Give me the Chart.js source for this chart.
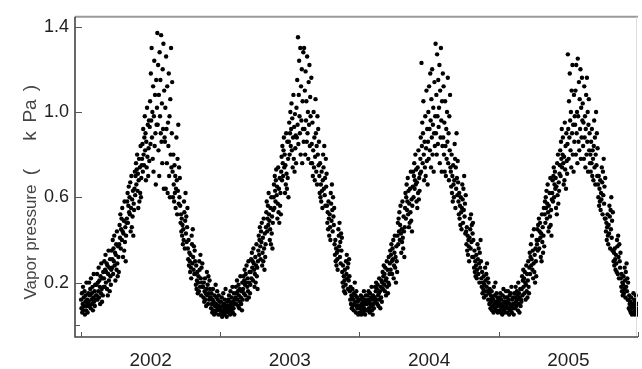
<!DOCTYPE html>
<html>
<head>
<meta charset="utf-8">
<script src="https://cdn.jsdelivr.net/npm/chart.js@4.4.0/dist/chart.umd.min.js"></script>
<style>
  html, body { margin: 0; padding: 0; background: #fff; }
</style>
</head>
<body>
<canvas id="myChart" width="642" height="369"></canvas>
<script>
// years shown on the x axis and the day each one starts (day 0 = 1 Jan 2002)
const years = [2002, 2003, 2004, 2005];
const yearStartDay = [0, 365, 730, 1096];
const lastDay = 1461;
const yTicks = [0, 0.2, 0.6, 1.0, 1.4];

// daily vapor pressure (kPa)
const vp2002 = [
  0.12,0.08,0.15,0.06,0.10,0.18,0.07,0.13,0.09,0.16,0.05,0.11,0.14,0.07,0.20,0.09,0.12,0.06,0.10,0.15,
  0.11,0.20,0.09,0.14,0.17,0.08,0.22,0.12,0.15,0.10,0.18,0.07,0.13,0.24,0.11,0.16,0.09,0.19,0.12,0.14,
  0.19,0.14,0.24,0.12,0.20,0.16,0.27,0.13,0.21,0.18,0.10,0.23,0.15,0.29,0.17,0.11,0.22,0.14,0.25,0.18,
  0.22,0.30,0.18,0.26,0.33,0.20,0.25,0.29,0.17,0.28,0.14,0.24,0.35,0.21,0.27,0.16,0.31,0.23,0.19,0.26,
  0.35,0.27,0.31,0.40,0.24,0.36,0.30,0.42,0.28,0.34,0.21,0.33,0.38,0.26,0.44,0.29,0.23,0.37,0.32,0.25,
  0.38,0.47,0.41,0.52,0.36,0.45,0.50,0.40,0.55,0.44,0.32,0.43,0.49,0.35,0.58,0.39,0.46,0.30,0.42,0.48,
  0.50,0.58,0.62,0.48,0.56,0.65,0.53,0.60,0.52,0.67,0.44,0.55,0.70,0.46,0.59,0.51,0.63,0.42,0.57,0.54,
  0.64,0.72,0.61,0.70,0.76,0.66,0.73,0.80,0.63,0.71,0.55,0.68,0.78,0.58,0.74,0.62,0.84,0.60,0.69,0.75,
  0.78,0.85,0.72,0.92,0.80,0.75,0.88,0.98,0.82,0.90,0.68,0.86,0.74,1.02,0.79,0.94,0.70,0.83,0.96,0.77,
  0.93,1.05,0.85,1.18,0.96,1.30,0.88,1.00,0.78,1.12,0.72,0.98,1.24,0.84,1.08,0.90,0.66,1.15,0.94,1.02,
  1.37,0.94,1.22,0.82,1.08,0.70,1.28,0.98,1.15,0.90,1.36,0.86,1.04,0.76,1.20,0.92,1.32,0.64,1.10,0.88,
  0.86,1.02,0.64,1.26,0.92,0.76,1.12,0.62,0.95,0.84,1.18,0.70,0.98,0.60,1.06,0.80,1.30,0.74,0.90,1.14,
  0.72,0.60,0.80,0.66,0.58,0.75,0.62,0.70,0.55,0.64,0.88,0.68,0.52,0.78,0.63,0.94,0.57,0.74,0.60,0.69,
  0.56,0.48,0.52,0.44,0.50,0.42,0.47,0.38,0.45,0.40,0.58,0.53,0.36,0.49,0.62,0.43,0.51,0.39,0.46,0.55,
  0.36,0.31,0.40,0.28,0.34,0.30,0.25,0.33,0.27,0.22,0.42,0.38,0.29,0.45,0.32,0.26,0.37,0.24,0.35,0.30,
  0.24,0.19,0.28,0.17,0.21,0.25,0.15,0.20,0.23,0.16,0.30,0.26,0.18,0.33,0.22,0.14,0.27,0.20,0.29,0.18,
  0.18,0.13,0.20,0.11,0.16,0.22,0.12,0.15,0.09,0.17,0.25,0.14,0.19,0.10,0.23,0.15,0.12,0.21,0.17,0.13,
  0.13,0.08,0.15,0.10,0.06,0.12,0.17,0.07,0.11,0.05,0.14,0.09,0.06,0.19,0.10,0.13,0.07,0.16,0.08,0.12,0.05,0.14,0.09,0.11,0.07
];
const vp2003 = [
  0.08,0.05,0.11,0.06,0.13,0.04,0.09,0.07,0.15,0.06,0.10,0.05,0.12,0.08,0.17,0.06,0.09,0.04,0.11,0.07,
  0.09,0.12,0.06,0.14,0.08,0.11,0.05,0.16,0.10,0.07,0.13,0.09,0.18,0.06,0.11,0.08,0.15,0.05,0.12,0.10,
  0.13,0.18,0.10,0.15,0.21,0.12,0.16,0.09,0.19,0.14,0.08,0.17,0.11,0.23,0.13,0.10,0.16,0.07,0.20,0.12,
  0.17,0.23,0.15,0.21,0.26,0.19,0.14,0.24,0.20,0.28,0.12,0.18,0.22,0.16,0.30,0.13,0.20,0.25,0.15,0.19,
  0.25,0.31,0.22,0.34,0.27,0.30,0.21,0.36,0.29,0.26,0.18,0.24,0.32,0.20,0.28,0.38,0.23,0.27,0.17,0.30,
  0.35,0.42,0.33,0.40,0.46,0.37,0.31,0.44,0.39,0.48,0.28,0.34,0.41,0.30,0.50,0.36,0.26,0.43,0.32,0.38,
  0.46,0.53,0.58,0.44,0.50,0.56,0.47,0.62,0.52,0.49,0.40,0.45,0.55,0.38,0.60,0.43,0.51,0.36,0.48,0.54,
  0.60,0.66,0.55,0.70,0.63,0.58,0.68,0.73,0.61,0.65,0.50,0.57,0.74,0.53,0.64,0.48,0.69,0.56,0.62,0.52,
  0.72,0.79,0.68,0.84,0.76,0.70,0.82,0.88,0.74,0.80,0.62,0.75,0.66,0.90,0.71,0.64,0.86,0.69,0.78,0.60,
  0.86,0.95,0.80,0.90,1.00,0.84,0.92,1.04,0.82,0.97,0.74,0.88,1.08,0.78,0.93,0.72,0.99,0.83,0.89,0.76,
  1.02,0.88,1.15,0.94,1.35,0.85,1.08,1.24,0.98,0.90,1.30,0.80,1.12,0.96,1.20,0.76,1.05,0.92,1.28,0.86,
  1.30,0.92,1.10,0.80,1.19,0.96,1.05,0.86,1.26,0.90,1.00,0.78,1.14,0.94,1.22,0.84,1.07,0.98,0.76,1.16,
  0.85,0.76,0.95,0.70,0.82,1.00,0.74,0.88,0.68,0.79,1.06,0.90,0.72,0.84,0.66,0.98,0.80,0.92,0.75,0.86,
  0.70,0.62,0.76,0.60,0.66,0.58,0.72,0.63,0.55,0.68,0.80,0.74,0.64,0.84,0.61,0.69,0.56,0.78,0.65,0.71,
  0.56,0.48,0.53,0.45,0.58,0.50,0.42,0.52,0.46,0.40,0.62,0.57,0.49,0.66,0.54,0.44,0.60,0.51,0.47,0.55,
  0.38,0.33,0.40,0.30,0.36,0.28,0.34,0.31,0.26,0.35,0.45,0.42,0.37,0.48,0.32,0.39,0.29,0.43,0.35,0.41,
  0.25,0.20,0.28,0.18,0.23,0.16,0.21,0.26,0.15,0.19,0.30,0.24,0.33,0.22,0.27,0.17,0.29,0.21,0.31,0.23,
  0.16,0.12,0.18,0.10,0.14,0.08,0.13,0.17,0.09,0.12,0.07,0.15,0.10,0.20,0.11,0.14,0.06,0.16,0.09,0.13,0.08,0.11,0.05,0.12,0.09
];
const vp2004 = [
  0.09,0.06,0.12,0.08,0.14,0.05,0.10,0.07,0.13,0.09,0.11,0.06,0.16,0.08,0.12,0.05,0.10,0.14,0.07,0.11,
  0.10,0.14,0.07,0.12,0.16,0.08,0.11,0.06,0.15,0.10,0.13,0.09,0.18,0.07,0.12,0.05,0.14,0.10,0.08,0.13,
  0.13,0.18,0.11,0.16,0.20,0.12,0.17,0.10,0.19,0.14,0.09,0.15,0.22,0.12,0.16,0.08,0.18,0.13,0.21,0.11,
  0.20,0.25,0.17,0.23,0.28,0.19,0.24,0.16,0.27,0.21,0.14,0.22,0.30,0.18,0.26,0.15,0.20,0.32,0.19,0.24,
  0.29,0.35,0.26,0.33,0.38,0.30,0.24,0.36,0.31,0.40,0.22,0.28,0.34,0.42,0.27,0.32,0.20,0.37,0.30,0.25,
  0.42,0.48,0.38,0.50,0.44,0.53,0.40,0.47,0.56,0.43,0.34,0.45,0.39,0.58,0.41,0.36,0.51,0.44,0.32,0.46,
  0.55,0.62,0.50,0.60,0.66,0.54,0.58,0.69,0.52,0.63,0.46,0.57,0.48,0.64,0.53,0.72,0.49,0.59,0.44,0.56,
  0.65,0.72,0.60,0.70,0.76,0.64,0.68,0.80,0.66,0.73,0.58,0.67,0.55,0.74,0.62,0.82,0.59,0.69,0.63,0.71,
  0.78,0.88,0.72,1.23,0.84,0.95,0.76,0.90,1.05,0.80,0.68,0.86,0.74,0.98,0.70,0.83,1.10,0.77,0.92,0.66,
  0.86,1.00,0.78,1.12,0.92,0.82,1.18,0.96,0.74,1.06,0.88,1.20,0.80,0.94,1.02,0.72,0.90,1.14,0.84,0.98,
  1.32,0.90,1.08,0.80,1.27,0.98,0.85,1.15,0.93,1.02,1.22,0.76,1.10,0.88,1.30,0.96,0.72,1.05,0.84,1.18,
  0.88,1.12,0.80,0.95,0.72,1.05,0.84,0.70,0.92,0.78,1.00,0.86,1.16,0.76,0.90,0.68,0.98,0.82,1.08,0.74,
  0.72,0.65,0.80,0.62,0.70,0.58,0.75,0.66,0.60,0.68,0.85,0.78,0.55,0.74,0.64,0.90,0.69,0.61,0.77,0.67,
  0.58,0.52,0.62,0.50,0.56,0.47,0.60,0.53,0.45,0.55,0.66,0.59,0.48,0.64,0.54,0.70,0.51,0.57,0.43,0.61,
  0.44,0.38,0.46,0.35,0.42,0.33,0.40,0.37,0.30,0.41,0.50,0.45,0.36,0.52,0.39,0.47,0.32,0.43,0.48,0.40,
  0.32,0.27,0.35,0.25,0.30,0.23,0.28,0.33,0.22,0.26,0.38,0.31,0.24,0.36,0.29,0.20,0.34,0.27,0.40,0.30,
  0.22,0.18,0.25,0.15,0.20,0.17,0.23,0.13,0.19,0.16,0.27,0.21,0.14,0.24,0.18,0.29,0.16,0.22,0.12,0.20,
  0.15,0.10,0.17,0.12,0.08,0.14,0.11,0.16,0.07,0.13,0.09,0.12,0.06,0.18,0.10,0.14,0.08,0.20,0.11,0.07,0.15,0.09,0.13,0.06,0.10,0.12
];
const vp2005 = [
  0.11,0.07,0.13,0.09,0.15,0.06,0.12,0.08,0.10,0.05,0.14,0.09,0.17,0.07,0.11,0.06,0.13,0.08,0.10,0.16,
  0.09,0.13,0.06,0.11,0.16,0.08,0.12,0.05,0.14,0.10,0.07,0.15,0.09,0.18,0.06,0.12,0.08,0.13,0.10,0.05,
  0.10,0.15,0.08,0.13,0.18,0.11,0.09,0.16,0.12,0.14,0.07,0.20,0.10,0.15,0.06,0.13,0.17,0.09,0.12,0.11,
  0.17,0.23,0.14,0.21,0.26,0.18,0.22,0.15,0.25,0.20,0.12,0.19,0.28,0.16,0.24,0.13,0.21,0.30,0.18,0.15,
  0.27,0.34,0.24,0.32,0.38,0.28,0.31,0.42,0.26,0.35,0.22,0.29,0.45,0.25,0.33,0.20,0.36,0.30,0.23,0.40,
  0.38,0.45,0.35,0.47,0.40,0.50,0.36,0.44,0.48,0.41,0.32,0.43,0.30,0.52,0.39,0.46,0.34,0.42,0.55,0.37,
  0.52,0.58,0.48,0.60,0.55,0.63,0.50,0.57,0.66,0.53,0.44,0.56,0.46,0.62,0.51,0.69,0.47,0.54,0.42,0.59,
  0.62,0.68,0.58,0.70,0.74,0.60,0.66,0.72,0.64,0.69,0.55,0.65,0.52,0.76,0.61,0.80,0.57,0.67,0.63,0.71,
  0.75,0.82,0.70,0.86,0.78,0.92,0.74,0.80,0.88,0.76,0.66,0.79,0.68,0.95,0.73,0.84,0.64,0.90,0.77,0.71,
  0.85,1.27,0.92,0.78,1.05,0.88,1.18,0.96,0.82,1.00,0.74,1.10,0.90,1.22,0.80,0.94,0.72,1.08,0.86,0.98,
  0.94,1.10,0.80,1.22,0.90,1.00,0.76,1.25,0.98,0.86,1.14,0.82,1.06,0.92,1.20,0.78,1.02,0.88,1.16,0.96,
  1.04,0.84,0.95,0.78,1.12,0.88,0.98,0.74,0.92,1.08,0.80,1.16,0.86,1.00,0.72,0.94,1.06,0.82,0.90,0.76,
  0.80,0.72,0.86,0.76,0.92,0.70,0.82,0.78,0.68,0.84,0.96,0.74,0.88,0.66,0.80,1.00,0.75,0.90,0.70,0.83,
  0.66,0.60,0.70,0.56,0.64,0.58,0.68,0.54,0.62,0.59,0.74,0.67,0.52,0.72,0.61,0.78,0.57,0.65,0.50,0.69,
  0.50,0.44,0.48,0.40,0.46,0.52,0.42,0.38,0.47,0.43,0.56,0.51,0.36,0.54,0.45,0.60,0.41,0.49,0.35,0.53,
  0.35,0.30,0.34,0.28,0.36,0.31,0.26,0.33,0.29,0.25,0.40,0.37,0.24,0.42,0.32,0.22,0.38,0.30,0.27,0.34,
  0.22,0.18,0.24,0.16,0.20,0.14,0.19,0.23,0.15,0.17,0.27,0.21,0.13,0.25,0.18,0.29,0.16,0.22,0.12,0.20,
  0.12,0.08,0.14,0.10,0.07,0.11,0.06,0.13,0.09,0.05,0.10,0.08,0.06,0.15,0.09,0.12,0.05,0.11,0.07,0.14,0.08,0.06,0.10,0.07,0.05
];

// y title pieces and where their centres sit along the axis (px from top)
const yTitleParts = ['Vapor pressure', '(', 'k', 'Pa', ')'];
const yTitleCentres = [242, 172, 136, 111, 88];

const points = [];
[vp2002, vp2003, vp2004, vp2005].forEach((vals, k) => {
    vals.forEach((v, i) => points.push({ x: yearStartDay[k] + i, y: v }));
});

// year boundaries get a tick mark, the middle of each year gets the label
const yearBounds = yearStartDay.concat([lastDay]);
const midYear = years.map((y, k) => (yearBounds[k] + yearBounds[k + 1]) / 2);

// frame, inward tick marks and the rotated y title
const framePlugin = {
    id: 'frame',
    afterDraw(chart) {
        const { ctx, chartArea: a, scales } = chart;
        ctx.save();
        ctx.strokeStyle = '#999';
        ctx.lineWidth = 2;
        ctx.beginPath();
        ctx.moveTo(a.left, a.top);
        ctx.lineTo(a.right, a.top);
        ctx.stroke();
        ctx.strokeStyle = '#ddd';
        ctx.lineWidth = 1;
        ctx.beginPath();
        ctx.moveTo(a.right - 1.5, a.top);
        ctx.lineTo(a.right - 1.5, a.bottom);
        ctx.stroke();

        ctx.strokeStyle = '#444';
        ctx.lineWidth = 1.6;
        ctx.beginPath();
        ctx.moveTo(a.left, a.top);
        ctx.lineTo(a.left, a.bottom);
        ctx.lineTo(a.right, a.bottom);
        ctx.stroke();

        ctx.lineWidth = 1;
        ctx.strokeStyle = '#555';
        ctx.beginPath();
        yTicks.forEach(v => {
            const py = Math.round(scales.y.getPixelForValue(v)) + 0.5;
            ctx.moveTo(a.left, py);
            ctx.lineTo(a.left + (v === 0 ? 5 : 7), py);
        });
        yearBounds.forEach(d => {
            const px = Math.round(scales.x.getPixelForValue(d)) + 0.5;
            ctx.moveTo(px, a.bottom);
            ctx.lineTo(px, a.bottom - 5);
        });
        ctx.stroke();

        ctx.translate(31, 0);
        ctx.rotate(-Math.PI / 2);
        ctx.fillStyle = '#444';
        ctx.textAlign = 'center';
        ctx.textBaseline = 'middle';
        yTitleParts.forEach((t, i) => {
            ctx.font = (i === 0 ? 17 : 19) + 'px "Liberation Sans", Arial, sans-serif';
            ctx.fillText(t, -yTitleCentres[i], 0);
        });
        ctx.restore();
    }
};

new Chart(document.getElementById('myChart'), {
    type: 'scatter',
    data: {
        datasets: [{
            label: 'Vapor pressure',
            data: points,
            pointRadius: 2.2,
            pointHoverRadius: 2.2,
            borderWidth: 0,
            backgroundColor: '#000'
        }]
    },
    options: {
        responsive: false,
        animation: false,
        layout: { padding: { top: 11, right: 4, left: 0, bottom: 0 } },
        plugins: { legend: { display: false }, tooltip: { enabled: false } },
        scales: {
            x: {
                type: 'linear',
                min: -16,
                max: lastDay,
                afterBuildTicks: s => { s.ticks = midYear.map(v => ({ value: v })); },
                afterFit: s => { s.height = 32; },
                grid: { display: false, drawTicks: false },
                border: { display: false },
                ticks: {
                    autoSkip: false,
                    maxRotation: 0,
                    padding: 12,
                    color: '#222',
                    font: { family: '"Liberation Sans", Arial, sans-serif', size: 19 },
                    callback: (v, i) => String(years[i])
                }
            },
            y: {
                min: -0.055,
                max: 1.446,
                afterBuildTicks: s => { s.ticks = yTicks.map(v => ({ value: v })); },
                afterFit: s => { s.width = 75; },
                grid: { display: false, drawTicks: false },
                border: { display: false },
                ticks: {
                    padding: 6,
                    color: '#222',
                    font: { family: '"Liberation Sans", Arial, sans-serif', size: 18 },
                    callback: v => v === 0 ? '' : v.toFixed(1)
                }
            }
        }
    },
    plugins: [framePlugin]
});
</script>
</body>
</html>
